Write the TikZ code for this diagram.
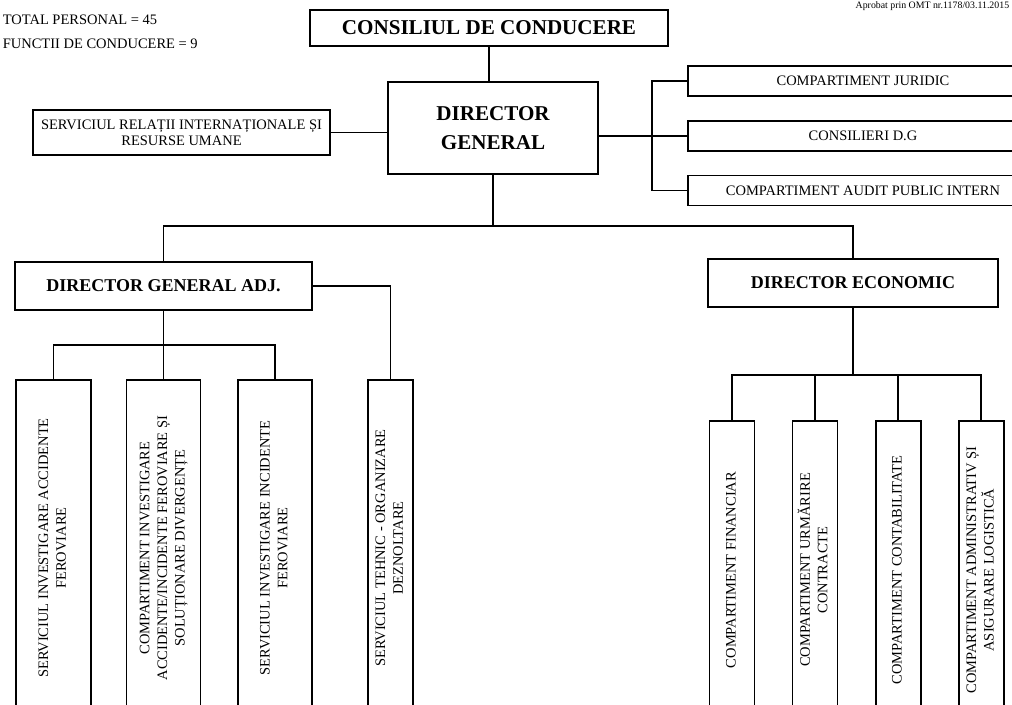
\documentclass[tikz,border=0pt]{standalone}
\usepackage{fontspec}
\setmainfont{Liberation Serif}
\usetikzlibrary{positioning}
\newcommand{\vtext}[1]{\rotatebox{90}{\begin{tabular}{@{}c@{}}#1\end{tabular}}}

\begin{document}
\begin{tikzpicture}[x=0.025cm, y=-0.025cm, line width=1.2pt,
  every node/.style={draw, rectangle, inner sep=2pt, line width=1.2pt, align=center, font=\fontsize{10.3}{12.5}\selectfont},
  head/.style={font=\fontsize{15}{21}\selectfont\bfseries},
  sub/.style={font=\fontsize{12.8}{15}\selectfont\bfseries, minimum height=1.2cm},
  sidebox/.style={minimum width=8.75cm, minimum height=0.75cm},
  vbox/.style={minimum height=8.4cm, inner sep=0pt},
  ebox/.style={minimum width=1.125cm, minimum height=7.45cm, inner sep=0pt},
  plain/.style={draw=none, inner sep=0pt, anchor=base west}]
  \useasboundingbox (0,0) rectangle (1012,704);

  % header texts
  \node[plain] (total) at (2,24) {TOTAL PERSONAL = 45};
  \node[plain] (functii) at (2,48) {FUNCTII DE CONDUCERE = 9};
  \node[plain, anchor=base east, font=\fontsize{7}{8}\selectfont] (aprobat) at (1010,8) {Aprobat prin OMT nr.1178/03.11.2015};

  % top of the chart
  \node[head, minimum width=8.95cm, minimum height=0.9cm] (cons) at (489,28) {CONSILIUL DE CONDUCERE};
  \node[head, minimum width=5.25cm, minimum height=2.3cm] (dg) at (493,128) {DIRECTOR\\GENERAL};
  \node[minimum width=7.425cm, minimum height=1.125cm, font=\fontsize{10.3}{11.5}\selectfont] (sri) at (181.5,132.5) {SERVICIUL RELAȚII INTERNAȚIONALE ȘI\\RESURSE UMANE};
  \node[sidebox] (jur) at (863,81) {COMPARTIMENT JURIDIC};
  \node[sidebox, below=0.575cm of jur] (cdg) {CONSILIERI D.G};
  \node[sidebox, below=0.575cm of cdg] (aud) {COMPARTIMENT AUDIT PUBLIC INTERN};

  % directors
  \node[sub, minimum width=7.425cm] (dga) at (163.5,286) {DIRECTOR GENERAL ADJ.};
  \node[sub, minimum width=7.25cm] (de) at (853,283) {DIRECTOR ECONOMIC};

  % services under the deputy
  \node[vbox, minimum width=1.875cm] (a1) at (53.5,548) {\vtext{SERVICIUL INVESTIGARE ACCIDENTE\\FEROVIARE}};
  \node[vbox, minimum width=1.85cm] (a2) at (163.5,548) {\vtext{COMPARTIMENT INVESTIGARE\\ACCIDENTE/INCIDENTE FEROVIARE ȘI\\SOLUȚIONARE DIVERGENȚE}};
  \node[vbox, minimum width=1.85cm] (a3) at (275,548) {\vtext{SERVICIUL INVESTIGARE INCIDENTE\\FEROVIARE}};
  \node[vbox, minimum width=1.125cm] (a4) at (390.5,548) {\vtext{SERVICIUL TEHNIC - ORGANIZARE\\DEZNOLTARE}};

  % economic departments
  \node[ebox] (e1) at (732,570) {\vtext{COMPARTIMENT FINANCIAR}};
  \node[ebox, right=0.91cm of e1] (e2) {\vtext{COMPARTIMENT URMĂRIRE\\CONTRACTE}};
  \node[ebox, right=0.91cm of e2] (e3) {\vtext{COMPARTIMENT CONTABILITATE}};
  \node[ebox, right=0.91cm of e3] (e4) {\vtext{COMPARTIMENT ADMINISTRATIV ȘI\\ASIGURARE LOGISTICĂ}};

  % connectors
  \coordinate (busR) at (652,134);
  \coordinate (mainbus) at (493,226);
  \coordinate (busA) at (163.5,345);
  \coordinate (busE) at (853,375);
  \draw (cons) -- (cons |- dg.north);
  \draw (sri.east) -- (sri.east -| dg.west);
  \draw (cdg.west -| dg.east) -- (cdg.west);
  \draw (jur.west) -| (busR) |- (aud.west);
  \draw (dg) -- (mainbus);
  \draw (dga) |- (mainbus) -| (de);
  \draw (dga) -- (busA);
  \draw (a1) |- (busA) -| (a3);
  \draw (busA) -- (a2);
  \draw (dga.east) -| (a4);
  \draw (de) -- (busE);
  \draw (e1) |- (busE) -| (e4);
  \foreach \b in {e2,e3}
    \draw (\b) -- (\b |- busE);
\end{tikzpicture}
\end{document}
